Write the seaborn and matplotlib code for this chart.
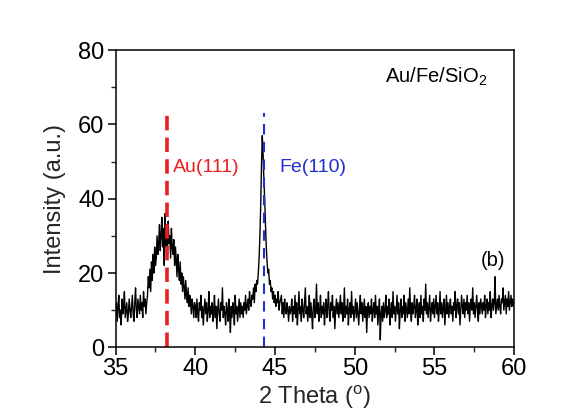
import numpy as np
import pandas as pd
import matplotlib
matplotlib.use("Agg")
import matplotlib.pyplot as plt
import seaborn as sns
from matplotlib.ticker import MultipleLocator

# ---- data (step 0.05 deg, 35 -> 60) ----
intensity = [
    9, 12, 7, 11, 14, 8, 10, 6, 13, 9, 11, 15, 8, 10, 12, 7, 9, 13, 10, 8,
    11, 14, 9, 7, 12, 16, 10, 8, 13, 11, 9, 14, 10, 12, 8, 15, 11, 13, 9, 12,
    14, 19, 16, 21, 15, 23, 18, 25, 20, 27, 22, 24, 30, 25, 28, 33, 26, 30, 35, 27,
    32, 22, 36, 27, 33, 25, 34, 28, 30, 24, 32, 27, 25, 29, 22, 27, 24, 19, 25, 21,
    18, 23, 17, 20, 15, 19, 16, 13, 18, 14, 12, 16, 11, 14, 12, 9, 13, 11, 8, 12,
    11, 8, 13, 9, 7, 12, 10, 14, 8, 11, 6, 10, 13, 9, 12, 7, 10, 15, 8, 11,
    9, 12, 7, 10, 14, 8, 11, 5, 10, 13, 9, 7, 12, 10, 16, 8, 11, 9, 6, 12,
    10, 7, 13, 9, 4, 11, 8, 12, 10, 6, 14, 9, 11, 7, 10, 13, 8, 12, 9, 11,
    8, 12, 10, 14, 9, 11, 13, 10, 15, 12, 11, 14, 13, 16, 12, 17, 15, 18, 17, 20,
    24, 30, 38, 49, 57, 52, 45, 40, 33, 27, 23, 20, 21, 17, 18, 15, 16, 13, 15, 12,
    14, 11, 13, 12, 15, 10, 12, 13, 14, 9, 12, 8, 13, 10, 9, 12, 10, 7, 11, 9,
    10, 13, 7, 11, 9, 14, 8, 12, 6, 10, 15, 9, 11, 7, 13, 10, 8, 12, 16, 9,
    11, 7, 10, 14, 8, 12, 9, 5, 11, 13, 8, 10, 17, 9, 12, 7, 10, 14, 8, 11,
    9, 12, 6, 10, 13, 8, 11, 15, 9, 7, 12, 10, 14, 8, 11, 5, 10, 13, 9, 12,
    8, 11, 14, 9, 12, 7, 10, 16, 8, 11, 9, 13, 6, 10, 12, 8, 15, 9, 11, 7,
    10, 13, 8, 12, 9, 6, 11, 14, 9, 12, 7, 10, 13, 8, 11, 4, 10, 12, 8, 11,
    9, 13, 7, 10, 12, 8, 14, 9, 11, 6, 10, 13, 2, 9, 11, 7, 12, 8, 10, 14,
    8, 11, 9, 13, 6, 10, 12, 8, 15, 9, 11, 7, 10, 14, 9, 12, 5, 10, 13, 8,
    11, 9, 14, 7, 12, 10, 8, 13, 9, 16, 10, 7, 12, 9, 11, 14, 8, 10, 13, 6,
    10, 12, 8, 14, 9, 11, 7, 13, 10, 17, 9, 12, 8, 11, 14, 7, 10, 12, 9, 13,
    8, 11, 14, 9, 12, 7, 10, 15, 9, 12, 8, 11, 13, 6, 10, 14, 9, 12, 8, 11,
    13, 9, 11, 7, 12, 10, 15, 8, 11, 13, 9, 12, 6, 10, 14, 11, 9, 13, 8, 12,
    10, 14, 9, 12, 7, 11, 13, 10, 16, 9, 12, 8, 11, 14, 10, 7, 12, 9, 13, 11,
    9, 12, 10, 14, 8, 11, 13, 9, 12, 10, 15, 8, 11, 13, 10, 12, 19, 9, 11, 13,
    10, 14, 11, 9, 13, 12, 16, 10, 12, 14, 9, 13, 11, 15, 10, 12, 14, 11, 13, 12,
    11,
]
two_theta = np.linspace(35, 60, len(intensity))

peak_pos = [38.2, 44.3]
peak_labels = ["Au(111)", "Fe(110)"]
peak_colors = ["#e8201f", "#1f2fd0"]
peak_top = 63

x_ticks = [35, 40, 45, 50, 55, 60]
y_ticks = [0, 20, 40, 60, 80]

df = pd.DataFrame({"two_theta": two_theta, "intensity": intensity})

sns.set_style("ticks")
plt.rcParams["font.family"] = ["Liberation Sans", "DejaVu Sans"]
plt.rcParams["mathtext.fontset"] = "custom"
plt.rcParams["mathtext.rm"] = "Liberation Sans"

fig = plt.figure(figsize=(5.81, 4.11), dpi=100)
ax = fig.add_axes([0.199, 0.155, 0.686, 0.723])

sns.lineplot(data=df, x="two_theta", y="intensity", ax=ax, color="black",
             linewidth=1.0, sort=False, estimator=None)

ax.vlines(peak_pos[0], 0, peak_top, colors=peak_colors[0], linewidth=2.6,
          linestyles=(0, (4, 2)))
ax.vlines(peak_pos[1], 0, peak_top, colors=peak_colors[1], linewidth=1.5,
          linestyles=(0, (5, 3.5)))

ax.text(38.6, 48.5, peak_labels[0], color=peak_colors[0], fontsize=14, va="center")
ax.text(45.3, 48.5, peak_labels[1], color=peak_colors[1], fontsize=14, va="center")
ax.text(51.9, 72.7, "Au/Fe/SiO$_2$", color="black", fontsize=14.5, va="center")
ax.text(57.9, 23.5, "(b)", color="black", fontsize=14.5, va="center")

ax.set_xlim(35, 60)
ax.set_ylim(0, 80)
ax.set_xticks(x_ticks)
ax.set_yticks(y_ticks)
ax.xaxis.set_minor_locator(MultipleLocator(2.5))
ax.yaxis.set_minor_locator(MultipleLocator(10))
ax.tick_params(which="major", direction="out", length=6, width=1.1, labelsize=17,
               colors="black", pad=2)
ax.tick_params(which="minor", direction="out", length=3.5, width=1.0)
for s in ax.spines.values():
    s.set_linewidth(1.1)
    s.set_color("black")

ax.set_xlabel("2 Theta ($^{\\rm o}$)", fontsize=17, labelpad=2)
ax.set_ylabel("Intensity (a.u.)", fontsize=17, labelpad=9)

fig.savefig("out.png", dpi=100)
